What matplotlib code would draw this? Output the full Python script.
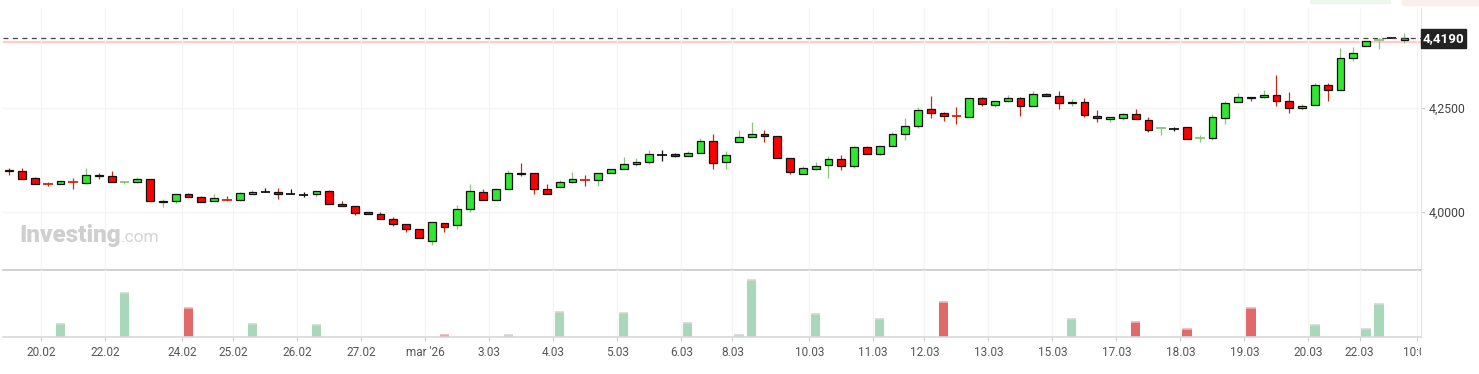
import matplotlib
matplotlib.use('Agg')
import matplotlib.pyplot as plt
from matplotlib.patches import Rectangle
from matplotlib.transforms import Bbox, TransformedBbox

plt.rcParams['font.family'] = ['Roboto', 'DejaVu Sans']
plt.rcParams['lines.scale_dashes'] = False

# candles (one per bar, oldest first)
opens = [4.102, 4.098, 4.081, 4.0685, 4.067, 4.0715, 4.070, 4.089, 4.086, 4.0725,
         4.073, 4.079, 4.025, 4.027, 4.043, 4.035, 4.026, 4.0285, 4.030, 4.043,
         4.047, 4.047, 4.043, 4.042, 4.043, 4.050, 4.019, 4.014, 4.001, 3.995,
         3.983, 3.970, 3.958, 3.930, 3.973, 3.968, 4.0065, 4.047, 4.028, 4.0545,
         4.094, 4.093, 4.0545, 4.059, 4.071, 4.0765, 4.076, 4.093, 4.103, 4.115,
         4.1195, 4.137, 4.1387, 4.134, 4.141, 4.170, 4.1195, 4.169, 4.1796, 4.187,
         4.182, 4.129, 4.0906, 4.1026, 4.112, 4.1267, 4.110, 4.1555, 4.1387, 4.158,
         4.187, 4.206, 4.2469, 4.2373, 4.2305, 4.2276, 4.2733, 4.2565, 4.2661, 4.2733,
         4.2541, 4.2829, 4.2781, 4.2615, 4.2637, 4.230, 4.2228, 4.2252, 4.2349, 4.2204,
         4.2012, 4.2002, 4.2036, 4.1772, 4.1772, 4.2252, 4.2637, 4.2772, 4.2757, 4.2805,
         4.2661, 4.2493, 4.2565, 4.3046, 4.2925, 4.3695, 4.3983, 4.4118, 4.4175, 4.4127]
highs = [4.106, 4.106, 4.084, 4.073, 4.074, 4.082, 4.106, 4.094, 4.099, 4.075,
         4.085, 4.079, 4.032, 4.043, 4.045, 4.038, 4.043, 4.0385, 4.049, 4.053,
         4.058, 4.058, 4.055, 4.049, 4.050, 4.053, 4.026, 4.014, 4.001, 4.001,
         3.987, 3.970, 3.958, 3.975, 3.973, 4.017, 4.067, 4.055, 4.0545, 4.101,
         4.118, 4.093, 4.067, 4.077, 4.096, 4.088, 4.093, 4.103, 4.132, 4.129,
         4.149, 4.149, 4.141, 4.1466, 4.178, 4.1875, 4.146, 4.197, 4.2156, 4.1964,
         4.182, 4.129, 4.1106, 4.1195, 4.1346, 4.137, 4.158, 4.1587, 4.158, 4.1916,
         4.2252, 4.2517, 4.2788, 4.2397, 4.2517, 4.2733, 4.2757, 4.2661, 4.2813, 4.2757,
         4.2909, 4.2853, 4.2909, 4.2709, 4.2733, 4.2445, 4.2276, 4.2373, 4.2469, 4.2276,
         4.2017, 4.2036, 4.2036, 4.1844, 4.2349, 4.2661, 4.2853, 4.2772, 4.2933, 4.3286,
         4.2885, 4.2589, 4.3108, 4.3094, 4.3935, 4.3959, 4.4103, 4.4175, 4.4175, 4.4303]
lows = [4.090, 4.080, 4.068, 4.063, 4.067, 4.056, 4.068, 4.079, 4.073, 4.068,
        4.069, 4.026, 4.013, 4.021, 4.035, 4.023, 4.026, 4.027, 4.027, 4.043,
        4.047, 4.031, 4.043, 4.035, 4.037, 4.0185, 4.014, 3.9935, 3.9945, 3.9825,
        3.966, 3.953, 3.938, 3.921, 3.953, 3.960, 4.001, 4.028, 4.028, 4.0545,
        4.087, 4.044, 4.043, 4.059, 4.069, 4.063, 4.063, 4.093, 4.103, 4.111,
        4.115, 4.123, 4.1315, 4.134, 4.141, 4.104, 4.104, 4.169, 4.1796, 4.1675,
        4.129, 4.0906, 4.0906, 4.100, 4.0825, 4.1017, 4.105, 4.1387, 4.136, 4.158,
        4.1738, 4.2012, 4.2267, 4.2195, 4.2108, 4.2276, 4.2541, 4.2517, 4.2637, 4.2315,
        4.2541, 4.2781, 4.2483, 4.2541, 4.2291, 4.2171, 4.2156, 4.2204, 4.2228, 4.1916,
        4.1844, 4.194, 4.1748, 4.1675, 4.1724, 4.2115, 4.2637, 4.2675, 4.2733, 4.2548,
        4.2387, 4.2445, 4.2565, 4.2675, 4.2925, 4.3637, 4.3983, 4.3911, 4.4175, 4.407]
closes = [4.098, 4.080, 4.068, 4.068, 4.074, 4.071, 4.089, 4.087, 4.073, 4.073,
          4.079, 4.026, 4.027, 4.043, 4.035, 4.023, 4.033, 4.028, 4.045, 4.048,
          4.047, 4.043, 4.043, 4.042, 4.050, 4.0185, 4.014, 3.997, 3.9945, 3.9825,
          3.970, 3.958, 3.938, 3.975, 3.963, 4.0065, 4.050, 4.028, 4.0545, 4.093,
          4.092, 4.0545, 4.043, 4.0714, 4.079, 4.076, 4.093, 4.1026, 4.1147, 4.120,
          4.1387, 4.137, 4.134, 4.141, 4.170, 4.117, 4.136, 4.1796, 4.1868, 4.182,
          4.129, 4.0954, 4.105, 4.1099, 4.1267, 4.110, 4.1555, 4.1387, 4.158, 4.1868,
          4.206, 4.2445, 4.2373, 4.230, 4.230, 4.2733, 4.2589, 4.2661, 4.2733, 4.2541,
          4.2829, 4.2781, 4.2613, 4.2635, 4.2325, 4.2252, 4.2276, 4.2349, 4.2228, 4.1964,
          4.2017, 4.2002, 4.1748, 4.1777, 4.2276, 4.2613, 4.2772, 4.2733, 4.2805, 4.2661,
          4.2507, 4.2541, 4.3046, 4.2925, 4.3695, 4.3815, 4.4103, 4.4123, 4.4175, 4.419]

# volume (only a few bars carry volume)
vol_idx = [4, 9, 14, 19, 24, 34, 39, 43, 48, 53, 57, 58, 63, 68, 73, 83, 88, 92, 97, 102, 106, 107]
vol_val = [37, 129, 85, 37, 34, 4, 3, 72, 70, 40, 3, 168, 67, 51, 102, 51, 43, 21, 85, 34, 21, 97]

tick_pos = [2.5, 7.5, 13.5, 17.5, 22.5, 27.5, 32.5, 37.5, 42.5, 47.5, 52.5, 56.5,
            62.5, 67.5, 71.5, 76.5, 81.5, 86.5, 91.5, 96.5, 101.5, 105.5, 110]
tick_lab = ['20.02', '22.02', '24.02', '25.02', '26.02', '27.02', "mar '26", '3.03', '4.03',
            '5.03', '6.03', '8.03', '10.03', '11.03', '12.03', '13.03', '15.03', '17.03',
            '18.03', '19.03', '20.03', '22.03', '10:00']
price_ticks = [4.0, 4.25]
last_price = 4.419
prev_close = 4.408

GREEN, RED = '#32e632', '#ff0000'
GWICK, RWICK = '#86c77a', '#c8290f'
W, H = 1479, 374

def px_box(l, t, r, b):
    return [l / W, 1 - b / H, (r - l) / W, (b - t) / H]

fig = plt.figure(figsize=(W / 100, H / 100), dpi=100)
ax = fig.add_axes(px_box(3, 8, 1421, 270))
axv = fig.add_axes(px_box(3, 270, 1421, 336.5), sharex=ax)

for i in range(len(opens)):
    o, h, l, c = opens[i], highs[i], lows[i], closes[i]
    if c == o:
        ax.vlines(i, l, h, color='#111111', lw=0.9, zorder=2)
        ax.hlines(o, i - 0.36, i + 0.36, color='#111111', lw=1.3, zorder=3)
        continue
    up = c > o
    wc = GWICK if up else RWICK
    ax.vlines(i, l, h, color=wc, lw=0.9, zorder=2)
    if abs(c - o) < 0.001:
        ax.hlines(c, i - 0.38, i + 0.38, color=wc, lw=1.3, zorder=3)
    else:
        ax.bar(i, c - o, bottom=o, width=0.62, color=GREEN if up else RED,
               edgecolor='#111111', linewidth=0.9, zorder=3)

for i, v in zip(vol_idx, vol_val):
    up = closes[i] > opens[i]
    axv.bar(i, v, width=0.75, color='#a6d8b9' if up else '#e06a6a', zorder=2)
    axv.hlines(v, i - 0.375, i + 0.375, color='#d6d6d6' if up else '#f2b4b4', lw=1.2, zorder=3)

ax.axhline(prev_close, color='#ffcccc', lw=1.6, zorder=1)
ax.axhline(last_price, color='#444444', lw=0.9, dashes=(3.6, 3.2), zorder=4)

ax.set_xlim(-0.49, 110.29)
ax.set_ylim(3.8606, 4.4904)
axv.set_ylim(0, 198)

ax.set_xticks(tick_pos)
ax.tick_params(axis='x', which='both', length=0, labelbottom=False)
ax.yaxis.tick_right()
ax.set_yticks(price_ticks)
ax.set_yticklabels(['4,0000', '4,2500'])
ax.tick_params(axis='y', length=3, width=0.8, color='#cccccc', pad=2.5,
               labelsize=8.8, labelcolor='#444444')
ax.grid(True, color='#f4f4f4', lw=0.9, zorder=0)
axv.grid(True, axis='x', color='#f4f4f4', lw=0.9, zorder=0)
axv.set_yticks([])
axv.tick_params(axis='x', length=3, width=0.8, color='#cccccc', pad=4,
                labelsize=8.5, labelcolor='#555555')
axv.set_xticklabels(tick_lab)

for a in (ax, axv):
    a.set_facecolor('none')
    for s in ('top', 'left'):
        a.spines[s].set_visible(False)
    a.spines['right'].set_color('#e4e4e4')
ax.spines['bottom'].set_color('#c8c8c8')
ax.spines['bottom'].set_linewidth(1.2)
axv.spines['bottom'].set_color('#d8d8d8')
axv.spines['bottom'].set_linewidth(1.2)

# last x label is cut by the plot edge
clip = TransformedBbox(Bbox([[0, -1], [1, 1]]), axv.transAxes)
lab = axv.get_xticklabels()[-1]
lab.set_clip_on(True)
lab.set_clip_box(clip)

# last price tag
fig.patches.append(Rectangle((1421 / W, 1 - 47.5 / H), 44.5 / W, 18.5 / H,
                             transform=fig.transFigure, color='#222222', zorder=5))
fig.text(1443.5 / W, 1 - 38.5 / H, '4,4190', color='white', fontsize=9.6,
         fontweight='bold', ha='center', va='center', zorder=6)

# faint shadows of cut off buttons at the top
fig.patches.append(Rectangle((1310 / W, 1 - 3 / H), 80 / W, 3 / H,
                             transform=fig.transFigure, color='#eef7ee', zorder=0))
fig.patches.append(Rectangle((1402 / W, 1 - 5 / H), 77 / W, 5 / H,
                             transform=fig.transFigure, color='#fdeeee', zorder=0))

# watermark
wm = fig.text(19 / W, 1 - 242 / H, 'Investing', color='#cfcfcf', fontsize=17.5,
              fontweight='heavy', ha='left', va='baseline')
fig.canvas.draw()
x_end = wm.get_window_extent().x1
fig.text(x_end / W, 1 - 242 / H, '.com', color='#d4d4d4', fontsize=12.5,
         ha='left', va='baseline')

fig.savefig('out.png', dpi=100, facecolor='white')
